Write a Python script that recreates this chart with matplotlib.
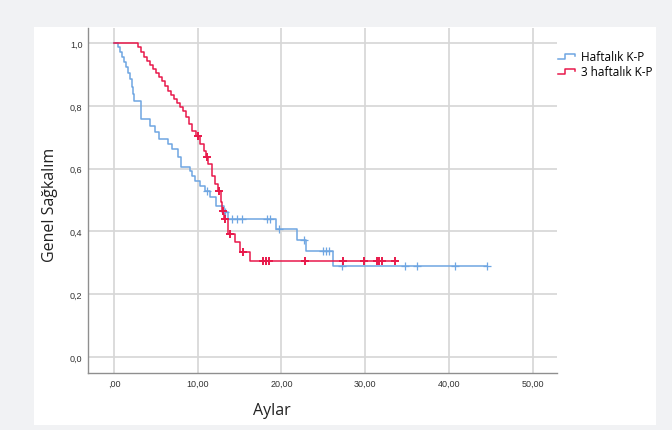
import numpy as np
import matplotlib
matplotlib.use("Agg")
import matplotlib.pyplot as plt
from matplotlib.patches import Rectangle
from matplotlib.lines import Line2D
from matplotlib.legend_handler import HandlerBase


# Kaplan-Meier curves (time in months, survival after each drop)
weekly_t = [0.48, 0.72, 0.95, 1.19, 1.43, 1.67, 1.91, 2.15, 2.27, 2.39, 3.22,
            4.30, 4.89, 5.37, 6.44, 6.92, 7.64, 8.00, 9.07, 9.31, 9.67, 10.26,
            10.86, 11.46, 12.17, 13.13, 13.60, 19.33, 21.84, 22.90, 26.13]
weekly_s = [0.987, 0.971, 0.955, 0.939, 0.924, 0.904, 0.885, 0.860, 0.838, 0.815, 0.758,
            0.736, 0.717, 0.694, 0.678, 0.662, 0.637, 0.605, 0.592, 0.576, 0.561, 0.545,
            0.529, 0.510, 0.481, 0.462, 0.439, 0.408, 0.373, 0.338, 0.290]
weekly_cens = [11.1, 13.3, 14.1, 14.7, 15.3, 18.3, 18.6, 19.7, 22.7, 24.9, 25.3,
               25.7, 27.2, 34.8, 36.2, 40.7, 44.5]

triweekly_t = [2.86, 3.22, 3.58, 3.94, 4.30, 4.65, 5.01, 5.37, 5.73, 6.09, 6.44,
               6.80, 7.16, 7.52, 7.88, 8.23, 8.59, 8.95, 9.31, 9.79, 10.26, 10.74,
               10.98, 11.22, 11.69, 12.05, 12.41, 12.77, 12.89, 13.13, 13.60, 14.44,
               15.04, 16.23]
triweekly_s = [0.987, 0.971, 0.955, 0.943, 0.930, 0.917, 0.904, 0.892, 0.879, 0.863, 0.847,
               0.834, 0.822, 0.809, 0.796, 0.783, 0.764, 0.742, 0.720, 0.704, 0.678, 0.656,
               0.637, 0.615, 0.576, 0.551, 0.529, 0.494, 0.465, 0.439, 0.392, 0.366,
               0.334, 0.306]
triweekly_cens = [10.0, 11.1, 12.5, 13.0, 13.25, 13.85, 15.4, 17.8, 18.1, 18.5, 22.8,
                  27.3, 29.9, 31.4, 31.6, 32.0, 33.5]

series_names = ["Haftalık K-P", "3 haftalık K-P"]
series_colors = ["#6fa6e2", "#e8194b"]
cross_widths = [0.9, 1.4]

x_ticks = [0, 10, 20, 30, 40, 50]
x_tick_labels = [",00", "10,00", "20,00", "30,00", "40,00", "50,00"]
y_ticks = [0.0, 0.2, 0.4, 0.6, 0.8, 1.0]
y_tick_labels = ["0,0", "0,2", "0,4", "0,6", "0,8", "1,0"]


class StepHandler(HandlerBase):
    # legend key drawn as a small step, like SPSS does
    def create_artists(self, legend, orig_handle, xdescent, ydescent,
                       width, height, fontsize, trans):
        w = width * 0.9
        xs = [0, w * 0.45, w * 0.45, w, w]
        ys = [height * 0.1, height * 0.1, height * 0.75, height * 0.75, height * 0.45]
        line = Line2D(np.array(xs) - xdescent, np.array(ys) - ydescent,
                      color=orig_handle.get_color(), lw=1.1, transform=trans)
        return [line]


def km_points(t, s, end):
    x = [0.0] + list(t) + [end]
    y = [1.0] + list(s) + [s[-1]]
    return x, y


def surv_at(t, s, times):
    idx = np.searchsorted(np.array(t), np.array(times), side="right")
    vals = np.concatenate([[1.0], s])
    return vals[idx]


fig = plt.figure(figsize=(6.72, 4.31), dpi=100)
fig.patch.set_facecolor("#f1f2f4")
fig.patches.append(Rectangle((34 / 672, 5 / 431), 622 / 672, 398 / 431,
                             transform=fig.transFigure, facecolor="white",
                             edgecolor="none", zorder=-1))

ax = fig.add_axes([88 / 672, 57 / 431, 469 / 672, 345 / 431])
ax.set_facecolor("white")
ax.set_zorder(2)

handles = []
data = [(weekly_t, weekly_s, weekly_cens), (triweekly_t, triweekly_s, triweekly_cens)]
for (t, s, cens), name, col, mw in zip(data, series_names, series_colors, cross_widths):
    end = max(cens)
    x, y = km_points(t, s, end)
    h, = ax.step(x, y, where="post", color=col, lw=1.1, label=name, zorder=3)
    ax.plot(cens, surv_at(t, s, cens), "+", color=col, ms=6, mew=mw,
            linestyle="none", zorder=4)
    handles.append(h)

ax.set_xlim(-3.1, 52.9)
ax.set_ylim(-0.051, 1.048)
ax.set_xticks(x_ticks)
ax.set_xticklabels(x_tick_labels)
ax.set_yticks(y_ticks)
ax.set_yticklabels(y_tick_labels)
ax.tick_params(length=0, labelsize=6.5, labelcolor="#333333", pad=4,
               labelfontfamily="Liberation Sans")
ax.grid(True, color="#d6d6d6", lw=1.2, zorder=1)
ax.set_axisbelow(True)
for side in ["top", "right"]:
    ax.spines[side].set_visible(False)
for side in ["left", "bottom"]:
    ax.spines[side].set_color("#8f8f8f")
    ax.spines[side].set_linewidth(1.0)

fig.text(272 / 672, 1 - 411 / 431, "Aylar", ha="center", va="center",
         fontsize=11.5, family="Open Sans", color="#222222")
fig.text(50 / 672, 1 - 205 / 431, "Genel Sağkalım", ha="center", va="center",
         rotation=90, fontsize=11.5, family="Open Sans", color="#222222")

leg = fig.legend(handles=handles, labels=series_names,
                 loc="upper left", bbox_to_anchor=(553 / 672, 1 - 46 / 431),
                 frameon=False, handlelength=1.6, handletextpad=0.4,
                 labelspacing=0.2, borderaxespad=0,
                 handler_map={Line2D: StepHandler()},
                 prop={"family": "Open Sans", "size": 8.5})

fig.savefig("out.png", dpi=100, facecolor=fig.get_facecolor())
